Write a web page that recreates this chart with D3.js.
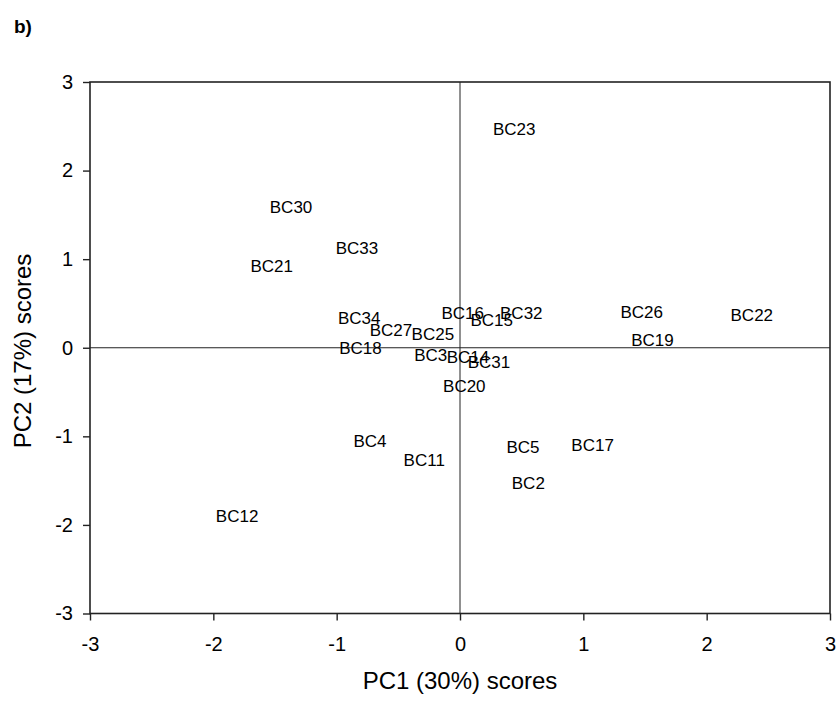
<!DOCTYPE html>
<html>
<head>
<meta charset="utf-8">
<script src="https://cdn.jsdelivr.net/npm/d3@7"></script>
<style>
  html, body { margin: 0; padding: 0; background: #fff; }
  svg { display: block; font-family: "Liberation Sans", Arial, sans-serif; }
</style>
</head>
<body>
<svg id="chart" width="838" height="703"></svg>
<script>
// Sample labels and their PCA scores
const samples = ["BC23","BC30","BC33","BC21","BC34","BC27","BC25","BC18","BC16","BC15","BC32",
                 "BC3","BC14","BC31","BC20","BC26","BC19","BC22","BC4","BC11","BC12","BC5","BC17","BC2"];
const pc1 = [0.44,-1.37,-0.835,-1.527,-0.817,-0.56,-0.22,-0.807,0.022,0.257,0.497,
             -0.237,0.065,0.235,0.035,1.473,1.56,2.366,-0.73,-0.29,-1.807,0.511,1.075,0.554];
const pc2 = [2.47,1.59,1.126,0.922,0.336,0.197,0.152,0.003,0.389,0.317,0.392,
             -0.076,-0.104,-0.165,-0.428,0.401,0.091,0.375,-1.056,-1.267,-1.893,-1.117,-1.092,-1.523];
const xTicks = [-3,-2,-1,0,1,2,3];
const yTicks = [-3,-2,-1,0,1,2,3];

const svg = d3.select("#chart");
const margin = {top: 82, right: 8, bottom: 89.5, left: 90};
const W = 838, H = 703;
const iw = W - margin.left - margin.right;
const ih = H - margin.top - margin.bottom;

const x = d3.scaleLinear().domain([-3, 3]).range([0, iw]);
const y = d3.scaleLinear().domain([-3, 3]).range([ih, 0]);

// plain hyphen-minus for negative tick values
const fmt = d => String(d);

const g = svg.append("g").attr("transform", `translate(${margin.left},${margin.top})`);

// Zero reference lines
g.append("line").attr("x1", x(0)).attr("x2", x(0)).attr("y1", 0).attr("y2", ih)
  .attr("stroke", "#222").attr("stroke-width", 1);
g.append("line").attr("x1", 0).attr("x2", iw).attr("y1", y(0)).attr("y2", y(0))
  .attr("stroke", "#222").attr("stroke-width", 1);

// Frame
g.append("rect").attr("x", 0).attr("y", 0).attr("width", iw).attr("height", ih)
  .attr("fill", "none").attr("stroke", "#222").attr("stroke-width", 1.6);

// Axes
const xAxis = g.append("g").attr("transform", `translate(0,${ih})`)
  .call(d3.axisBottom(x).tickValues(xTicks).tickFormat(fmt).tickSize(7).tickPadding(16));
const yAxis = g.append("g")
  .call(d3.axisLeft(y).tickValues(yTicks).tickFormat(fmt).tickSize(7).tickPadding(10));
[xAxis, yAxis].forEach(a => {
  a.select(".domain").remove();
  a.selectAll(".tick line").attr("stroke", "#222").attr("stroke-width", 1.4);
  a.selectAll(".tick text").attr("fill", "#000").style("font-size", "20px")
    .style("font-family", "'Liberation Sans', Arial, sans-serif");
});

// Sample labels
g.selectAll("text.lbl").data(samples).enter().append("text")
  .attr("class", "lbl")
  .attr("x", (d, i) => x(pc1[i]))
  .attr("y", (d, i) => y(pc2[i]))
  .attr("text-anchor", "middle")
  .attr("dy", "0.36em")
  .style("font-size", "17px")
  .attr("fill", "#000")
  .text(d => d);

// Axis titles
svg.append("text").attr("x", margin.left + iw / 2).attr("y", 689)
  .attr("text-anchor", "middle").style("font-size", "24px").text("PC1 (30%) scores");
svg.append("text").attr("transform", `translate(31,351) rotate(-90)`)
  .attr("text-anchor", "middle").style("font-size", "24px").text("PC2 (17%) scores");

// Panel tag
svg.append("text").attr("x", 14).attr("y", 33)
  .style("font-size", "19px").style("font-weight", "bold").text("b)");
</script>
</body>
</html>
